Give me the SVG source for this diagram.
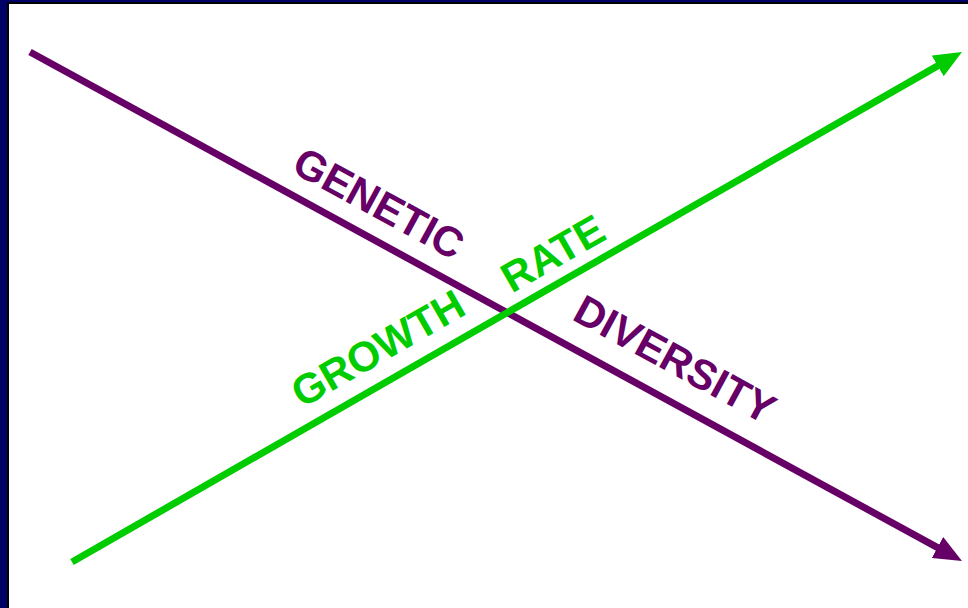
<svg xmlns="http://www.w3.org/2000/svg" width="968" height="608" viewBox="0 0 968 608">
<style>
.lbl{font-family:"Liberation Sans",Arial,sans-serif;font-weight:bold;font-size:42px;text-anchor:middle}
.pur{fill:#660066}
.grn{fill:#00CC00}
.ln{fill:none;stroke-width:7}
</style>
<defs>
<marker id="ahP" markerUnits="userSpaceOnUse" markerWidth="28" markerHeight="24" refX="6" refY="12" orient="auto"><path d="M0,0 L28,12 L0,24 z" fill="#660066"/></marker>
<marker id="ahG" markerUnits="userSpaceOnUse" markerWidth="28" markerHeight="24" refX="6" refY="12" orient="auto"><path d="M0,0 L28,12 L0,24 z" fill="#00CC00"/></marker>
</defs>
<rect x="0" y="0" width="968" height="608" fill="#000066"/>
<rect x="7" y="2" width="961" height="606" fill="#000000"/>
<rect x="9" y="4" width="959" height="604" fill="#ffffff"/>
<g id="connectors">
<path class="ln" d="M30,52 L942.7,550.4" stroke="#660066" marker-end="url(#ahP)"/>
<path class="ln" d="M72,562 L942.9,62.9" stroke="#00CC00" marker-end="url(#ahG)"/>
</g>
<g id="genetic"><text class="lbl pur" transform="translate(372,216) rotate(28.6)">GENETIC</text></g>
<g id="diversity"><text class="lbl pur" transform="translate(668,372) rotate(28.6)">DIVERSITY</text></g>
<g id="growth"><text class="lbl grn" transform="translate(385,361) rotate(-29.8)">GROWTH</text></g>
<g id="rate"><text class="lbl grn" transform="translate(560,266) rotate(-29.8)">RATE</text></g>
</svg>
